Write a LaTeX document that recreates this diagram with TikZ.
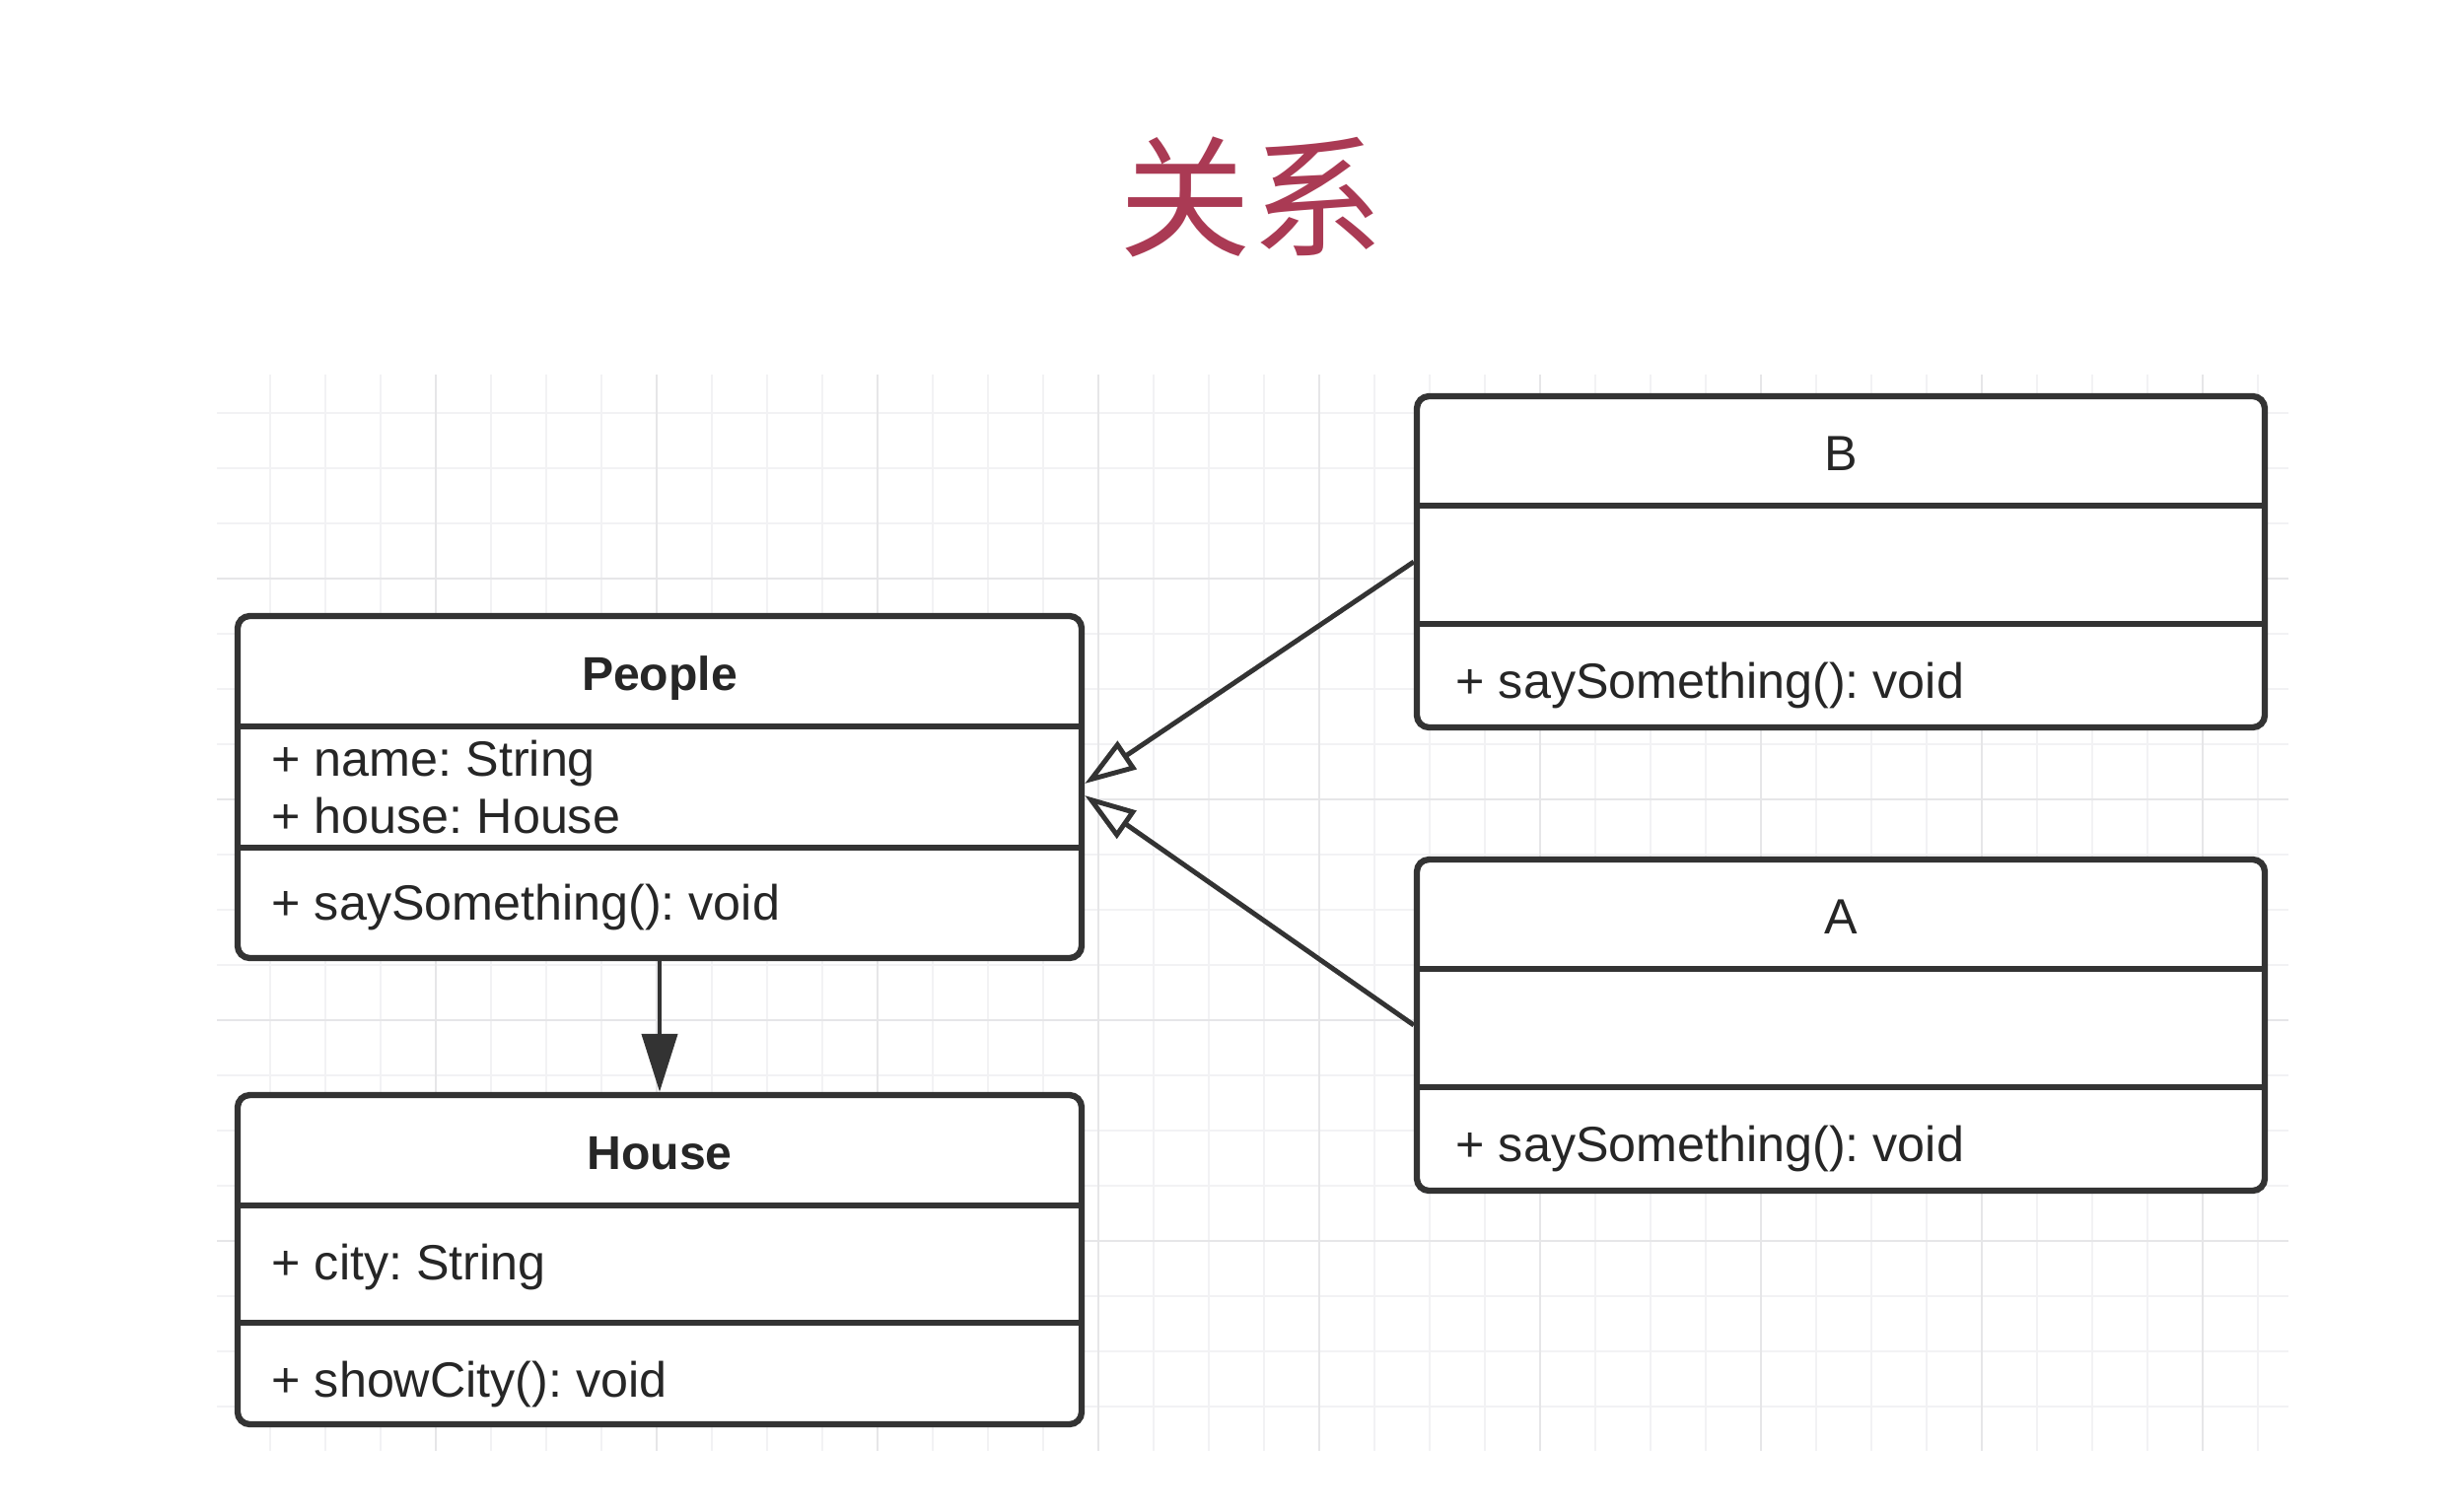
\documentclass[tikz,border=0pt]{standalone}
\usepackage{fontspec}
\setmainfont{Liberation Sans}
\newfontfamily\cjk{Noto Sans CJK SC}
\usetikzlibrary{arrows.meta}
\frenchspacing

\definecolor{linegray}{HTML}{333333}
\definecolor{titlered}{RGB}{170,58,84}
\definecolor{gridminor}{HTML}{F2F2F4}
\definecolor{gridmajor}{HTML}{E6E6E8}

\tikzset{
  classbox/.style={draw=linegray,line width=1.8pt,rounded corners=3.5pt,fill=white,
    rectangle,minimum width=85.6mm,inner sep=0pt},
  divider/.style={draw=linegray,line width=1.8pt},
  classname/.style={anchor=base,inner sep=0pt,text=black!85,
    font=\fontsize{13.7}{16}\selectfont\bfseries},
  plainname/.style={anchor=base,inner sep=0pt,text=black!85,
    font=\fontsize{14.3}{17}\selectfont},
  member/.style={anchor=base west,inner sep=0pt,text=black!85,
    font=\fontsize{14.3}{17}\selectfont},
  inherit/.style={draw=linegray,line width=1.4pt,
    -{Triangle[length=14.8pt,width=9.6pt,fill=white]}},
  assoc/.style={draw=linegray,line width=1.4pt,
    -{Triangle[length=16.8pt,width=10.2pt,fill=linegray]}},
}

\begin{document}
\begin{tikzpicture}[x=0.1mm,y=-0.1mm]
  \useasboundingbox (0,0) rectangle (2496,1534);

  \node[font=\cjk\fontsize{38}{40}\selectfont,text=titlered] (title) at (1269,200) {关系};

  %% background grid
  \begin{scope}
    \clip (220,380) rectangle (2321,1472);
    \foreach \x in {218,274,...,2290} \draw[gridminor,line width=0.7pt] (\x,380) -- (\x,1472);
    \foreach \y in {419,475,...,1427} \draw[gridminor,line width=0.7pt] (220,\y) -- (2321,\y);
    \foreach \x in {218,442,...,2234} \draw[gridmajor,line width=0.8pt] (\x,380) -- (\x,1472);
    \foreach \y in {587,811,...,1259} \draw[gridmajor,line width=0.8pt] (220,\y) -- (2321,\y);
  \end{scope}

  %% People
  \node[classbox,minimum height=34.7mm] (people) at (669,798.5) {};
  \draw[divider] (people.west |- 0,737) -- (people.east |- 0,737);
  \draw[divider] (people.west |- 0,860) -- (people.east |- 0,860);
  \node[classname] (peopleName) at (669,700) {People};
  \node[member] (peopleAttrA) at (275,787) {+ name: String};
  \node[member] (peopleAttrB) at (275,845) {+ house: House};
  \node[member] (peopleOp) at (275,933) {+ saySomething(): void};

  %% House
  \node[classbox,minimum height=33.4mm] (house) at (669,1278) {};
  \draw[divider] (house.west |- 0,1223) -- (house.east |- 0,1223);
  \draw[divider] (house.west |- 0,1342) -- (house.east |- 0,1342);
  \node[classname] (houseName) at (669,1186) {House};
  \node[member] (houseAttr) at (275,1298) {+ city: String};
  \node[member] (houseOp) at (275,1417) {+ showCity(): void};

  %% B
  \node[classbox,minimum width=86mm,minimum height=33.6mm] (classB) at (1867,570) {};
  \draw[divider] (classB.west |- 0,513) -- (classB.east |- 0,513);
  \draw[divider] (classB.west |- 0,633) -- (classB.east |- 0,633);
  \node[plainname] (classBName) at (1867,477) {B};
  \node[member] (classBOp) at (1476,708) {+ saySomething(): void};

  %% A
  \node[classbox,minimum width=86mm,minimum height=33.6mm] (classA) at (1867,1040) {};
  \draw[divider] (classA.west |- 0,983) -- (classA.east |- 0,983);
  \draw[divider] (classA.west |- 0,1103) -- (classA.east |- 0,1103);
  \node[plainname] (classAName) at (1867,947) {A};
  \node[member] (classAOp) at (1476,1178) {+ saySomething(): void};

  %% relations
  \draw[inherit] (classB.west) -- ([yshift=0.35mm]people.east);
  \draw[inherit] (classA.west) -- ([yshift=-0.85mm]people.east);
  \draw[assoc] (people.south) -- (house.north);
\end{tikzpicture}
\end{document}
